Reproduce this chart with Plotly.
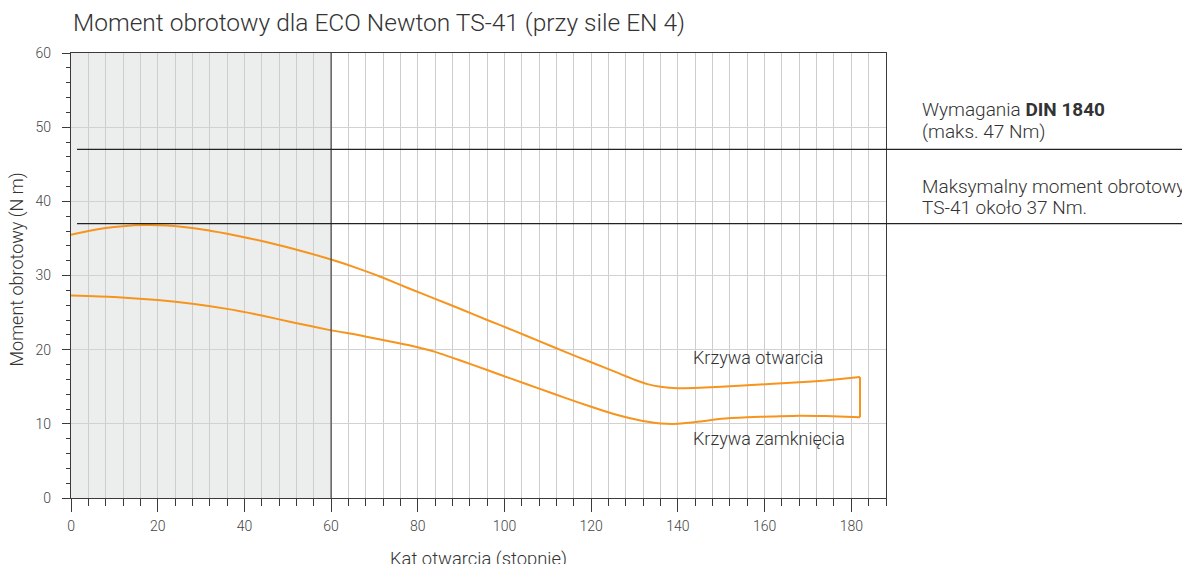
import plotly.graph_objects as go

# ---- data ----
open_x = [0, 4, 8, 12, 17, 22, 26, 30, 34, 38, 44, 51, 60, 66, 72, 78, 84, 90, 96, 102, 108, 114, 120, 126, 130, 133, 136, 140, 145, 150, 156, 162, 168, 174, 182]
open_y = [35.5, 36.0, 36.4, 36.65, 36.8, 36.75, 36.55, 36.25, 35.85, 35.4, 34.65, 33.65, 32.15, 31.0, 29.7, 28.25, 26.85, 25.45, 24.0, 22.6, 21.15, 19.7, 18.3, 16.9, 15.95, 15.35, 15.0, 14.8, 14.85, 15.0, 15.2, 15.4, 15.6, 15.85, 16.3]

close_x = [182, 174, 168, 162, 156, 150, 145, 140, 136, 132.7, 129, 125, 120, 114, 108, 102, 96, 90, 84, 78, 72, 66, 60, 51, 44, 36, 28, 20, 10, 0]
close_y = [10.9, 11.05, 11.1, 11.0, 10.9, 10.7, 10.3, 10.0, 10.05, 10.3, 10.75, 11.35, 12.3, 13.5, 14.75, 16.0, 17.25, 18.5, 19.7, 20.6, 21.3, 22.0, 22.6, 23.7, 24.6, 25.5, 26.2, 26.7, 27.1, 27.3]

din_limit = 47
ts41_max = 37
shade_end = 60

title_text = "Moment obrotowy dla ECO Newton TS-41 (przy sile EN 4)"
x_title = "Kat otwarcia (stopnie)"
y_title = "Moment obrotowy (N m)"

FONT = "Roboto, Liberation Sans, Arial, sans-serif"
W = 300
ORANGE = "#f7941d"
DARK = "#3a3a3a"
GRID = "#cdcdcd"

fig = go.Figure()

fig.add_trace(go.Scatter(x=open_x, y=open_y, mode="lines",
                         line=dict(color=ORANGE, width=2, shape="spline", smoothing=0.5),
                         hoverinfo="skip", showlegend=False))
fig.add_trace(go.Scatter(x=close_x, y=close_y, mode="lines",
                         line=dict(color=ORANGE, width=2, shape="spline", smoothing=0.5),
                         hoverinfo="skip", showlegend=False))
fig.add_trace(go.Scatter(x=[open_x[-1], close_x[0]], y=[open_y[-1], close_y[0]], mode="lines",
                         line=dict(color=ORANGE, width=2),
                         hoverinfo="skip", showlegend=False))

shapes = [
    dict(type="rect", xref="x", yref="y", x0=0, x1=shade_end, y0=0, y1=60,
         fillcolor="#eceeed", line=dict(width=0), layer="below"),
    dict(type="line", xref="x", yref="y", x0=shade_end, x1=shade_end, y0=0, y1=60,
         line=dict(color="#505050", width=1.3), layer="above"),
    dict(type="line", xref="paper", yref="y", x0=0.0074, x1=1.4, y0=din_limit, y1=din_limit,
         line=dict(color="#222222", width=1.2), layer="above"),
    dict(type="line", xref="paper", yref="y", x0=0.0074, x1=1.4, y0=ts41_max, y1=ts41_max,
         line=dict(color="#222222", width=1.2), layer="above"),
]

PX_PER_X = 815.3 / 188.0
PLOT_L = 70.7

def xpaper(px):
    return (px - PLOT_L) / 815.3

def ypx(py):
    return (498.3 - py) / 7.42

def f(size):
    return dict(family=FONT, size=size, color="#333", weight=W)

annotations = [
    dict(text="Wymagania <b>DIN 1840</b>", xref="paper", yref="y", x=xpaper(920), y=ypx(110),
         xanchor="left", yanchor="middle", showarrow=False, font=f(19)),
    dict(text="(maks. 47 Nm)", xref="paper", yref="y", x=xpaper(920), y=ypx(131.5),
         xanchor="left", yanchor="middle", showarrow=False, font=f(19)),
    dict(text="Maksymalny moment obrotowy", xref="paper", yref="y", x=xpaper(920), y=ypx(187),
         xanchor="left", yanchor="middle", showarrow=False, font=f(19)),
    dict(text="TS-41 około 37 Nm.", xref="paper", yref="y", x=xpaper(920), y=ypx(208),
         xanchor="left", yanchor="middle", showarrow=False, font=f(19)),
    dict(text="Krzywa otwarcia", xref="x", yref="y", x=(691 - PLOT_L) / PX_PER_X, y=ypx(358),
         xanchor="left", yanchor="middle", showarrow=False, font=f(18)),
    dict(text="Krzywa zamknięcia", xref="x", yref="y", x=(691 - PLOT_L) / PX_PER_X, y=ypx(439),
         xanchor="left", yanchor="middle", showarrow=False, font=f(18)),
    dict(text=x_title, xref="paper", yref="paper", x=0.5, y=0, yshift=-61,
         xanchor="center", yanchor="middle", showarrow=False, font=f(18.4)),
    dict(text=y_title, xref="paper", yref="paper", x=0, xshift=-55, y=0.5, yshift=6, textangle=-90,
         xanchor="center", yanchor="middle", showarrow=False, font=f(18)),
    dict(text=title_text, xref="paper", yref="paper", x=xpaper(71), y=1, yshift=31,
         xanchor="left", yanchor="middle", showarrow=False, font=f(24.5)),
]

fig.update_layout(
    width=1182, height=556,
    margin=dict(l=63, r=304, t=45, b=66),
    paper_bgcolor="white", plot_bgcolor="white",
    shapes=shapes, annotations=annotations,
    font=dict(family=FONT, color="#444"),
    xaxis=dict(range=[0, 188], showgrid=True, gridcolor=GRID, gridwidth=1,
               dtick=20, tick0=0, ticks="outside", ticklen=13, tickwidth=1.3, tickcolor=DARK,
               showline=True, linecolor=DARK, linewidth=1.3, mirror=True, zeroline=False,
               tickfont=dict(family=FONT, size=14, color="#444", weight=W), ticklabelstandoff=2,
               minor=dict(dtick=4, tick0=0, ticks="outside", ticklen=7, tickwidth=1.2, tickcolor=DARK,
                          showgrid=True, gridcolor=GRID, gridwidth=1),
               fixedrange=True),
    yaxis=dict(range=[0, 60], showgrid=True, gridcolor="#d2d2d2", gridwidth=1,
               dtick=10, tick0=0, ticks="outside", ticklen=8, tickwidth=1.3, tickcolor=DARK,
               showline=True, linecolor=DARK, linewidth=1.3, mirror=True, zeroline=False,
               tickfont=dict(family=FONT, size=14, color="#444", weight=W), ticklabelstandoff=8,
               minor=dict(dtick=2, tick0=0, ticks="outside", ticklen=4, tickwidth=1.2, tickcolor=DARK,
                          showgrid=False),
               fixedrange=True),
)

fig.write_html("out.html")
